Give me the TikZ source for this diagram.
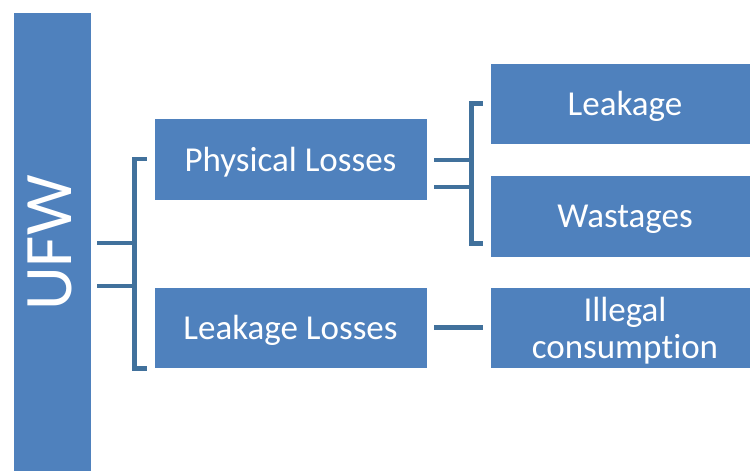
\documentclass[tikz,border=0pt]{standalone}
\usepackage{fontspec}
\setmainfont{Carlito}[RawFeature={-liga;-clig;-dlig}]
\usetikzlibrary{calc}
\definecolor{boxblue}{HTML}{4F81BD}
\definecolor{linkblue}{HTML}{41719C}
\tikzset{
  box/.style={fill=boxblue,draw=white,line width=0.6pt,text=white,align=center,
    inner sep=0pt,text depth=0pt,font=\fontsize{35}{37}\selectfont},
  link/.style={draw=linkblue,line width=4.5pt},
}

\begin{document}
\begin{tikzpicture}[x=1pt,y=-1pt]
    \clip (0,0) rectangle (750,471);

    % left column
    \node[box,minimum width=78pt,minimum height=468pt] (ufw) at (52,246) {};
    \node[rotate=90,text=white,inner sep=0pt,font=\fontsize{68}{70}\selectfont] (ufwtext) at (50,243) {UFW};

    % middle column
    \node[box,minimum width=273pt,minimum height=82pt] (phys) at (290.5,159) {Physical Losses};
    \node[box,minimum width=273pt,minimum height=81pt] (leakloss) at (290.5,327.5) {Leakage Losses};

    % right column
    \node[box,minimum width=270pt,minimum height=81pt] (leakage) at (625,103.5) {Leakage};
    \node[box,minimum width=270pt,minimum height=82pt] (waste) at (625,216) {Wastages};
    \node[box,minimum width=270pt,minimum height=81pt] (illegal) at (625,327.5) {Illegal\\consump\kern0pt tion};

    % brackets
    \draw[link] ($(ufw.east)+(6,-3)$) -- ++(38,0);
    \draw[link] ($(ufw.east)+(6,40)$) -- ++(38,0);
    \draw[link] ($(phys.west)+(-7,0)$) -- ++(-12,0) |- ($(leakloss.south west)+(-7,0)$);

    \draw[link] ($(phys.east)+(7,1)$) -- ++(38,0);
    \draw[link] ($(phys.east)+(7,28)$) -- ++(38,0);
    \draw[link] ($(leakage.west)+(-7,0)$) -- ++(-11,0) |- ($(waste.south west)+(-7,-14)$);

    \draw[link] ($(leakloss.east)+(7,0)$) -- ($(illegal.west)+(-7,0)$);
\end{tikzpicture}
\end{document}
